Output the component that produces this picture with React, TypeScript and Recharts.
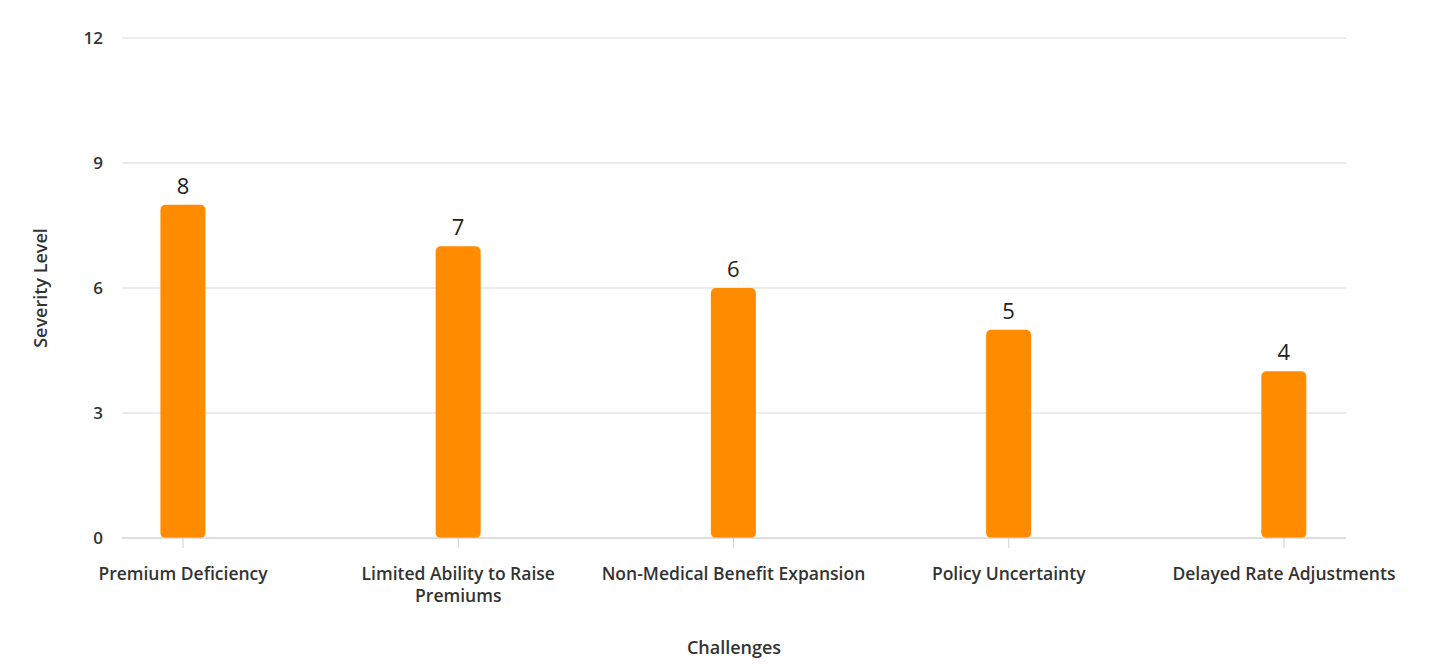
import React from 'react';
import { BarChart, Bar, XAxis, YAxis, CartesianGrid, LabelList, Label } from 'recharts';

const challenges = [
  'Premium Deficiency',
  'Limited Ability to Raise Premiums',
  'Non-Medical Benefit Expansion',
  'Policy Uncertainty',
  'Delayed Rate Adjustments',
];
const severity = [8, 7, 6, 5, 4];
const yTicks = [0, 3, 6, 9, 12];

const data = challenges.map((name, i) => ({ idx: i, name, value: severity[i] }));

const FONT = '"Open Sans", "Noto Sans", sans-serif';

// break a label into lines of at most maxChars characters
function wrapWords(label: string, maxChars = 30): string[] {
  const lines: string[] = [];
  let cur = '';
  label.split(' ').forEach((w) => {
    const next = cur ? cur + ' ' + w : w;
    if (next.length > maxChars && cur) {
      lines.push(cur);
      cur = w;
    } else {
      cur = next;
    }
  });
  if (cur) lines.push(cur);
  return lines;
}

const CategoryTick = ({ x, y, payload }: any) => {
  const lines = wrapWords(challenges[payload.value] ?? '');
  return (
    <text
      x={x}
      y={y}
      textAnchor="middle"
      fontFamily={FONT}
      fontSize={17.5}
      fontWeight={600}
      fill="#333"
    >
      {lines.map((l, i) => (
        <tspan key={i} x={x} dy={i === 0 ? '0.71em' : 22}>
          {l}
        </tspan>
      ))}
    </text>
  );
};

const YTitle = ({ viewBox }: any) => {
  const cx = 40;
  const cy = viewBox.y + viewBox.height / 2;
  return (
    <text
      x={cx}
      y={cy}
      transform={`rotate(-90 ${cx} ${cy})`}
      textAnchor="middle"
      dominantBaseline="central"
      fontFamily={FONT}
      fontSize={18}
      fontWeight={600}
      fill="#333"
    >
      Severity Level
    </text>
  );
};

export default function App() {
  return (
    <div style={{ width: 1430, height: 669, background: '#fff' }}>
      <style>{`body{margin:0}`}</style>
      <BarChart width={1430} height={669} data={data} margin={{ top: 38, right: 84, left: 0, bottom: 0 }}>
        <CartesianGrid vertical={false} stroke="#d9d9d9" />
        <XAxis
          dataKey="idx"
          type="number"
          domain={[-0.2218, 4.2255]}
          ticks={[0, 1, 2, 3, 4]}
          allowDataOverflow
          height={131}
          tickSize={10}
          tickMargin={20}
          axisLine={{ stroke: '#d0d0d0' }}
          tickLine={{ stroke: '#d0d0d0' }}
          tick={<CategoryTick />}
        >
          <Label
            value="Challenges"
            position="insideBottom"
            offset={15}
            fontFamily={FONT}
            fontSize={18}
            fontWeight={600}
            fill="#333"
          />
        </XAxis>
        <YAxis
          domain={[0, 12]}
          ticks={yTicks}
          width={122}
          axisLine={false}
          tickLine={false}
          tickMargin={13}
          tick={{ fontFamily: FONT, fontSize: 17, fontWeight: 600, fill: '#333' }}
        >
          <Label content={<YTitle />} />
        </YAxis>
        <Bar dataKey="value" fill="#ff8c00" barSize={45} radius={[5, 5, 5, 5]} isAnimationActive={false}>
          <LabelList
            dataKey="value"
            position="top"
            offset={11}
            fontFamily={FONT}
            fontSize={22}
            fill="#222"
          />
        </Bar>
      </BarChart>
    </div>
  );
}
